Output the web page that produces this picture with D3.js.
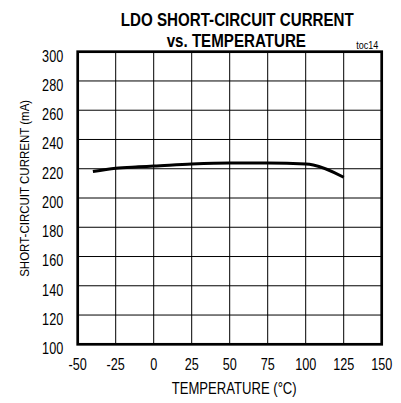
<!DOCTYPE html>
<html>
<head>
<meta charset="utf-8">
<script src="https://cdn.jsdelivr.net/npm/d3@7"></script>
<style>
  html, body { margin: 0; padding: 0; background: #fff; }
  svg text { font-family: "Liberation Sans", Arial, sans-serif; fill: #000; }
</style>
</head>
<body>
<div id="chart"></div>
<script>
// curve: temperature (°C) vs short-circuit current (mA)
const temps    = [-40, -25, -10, 0, 25, 50, 75, 100, 105, 125];
const currents = [218.1, 220.4, 221.3, 221.8, 223.2, 223.9, 223.9, 223.2, 222.6, 214.2];

const xTicks = [-50, -25, 0, 25, 50, 75, 100, 125, 150];
const yTicks = [100, 120, 140, 160, 180, 200, 220, 240, 260, 280, 300];

const W = 401, H = 403;
const margin = { top: 51.7, right: 19.3, bottom: 58.7, left: 77.7 };
const width  = W - margin.left - margin.right;
const height = H - margin.top - margin.bottom;

// the original uses an Arial Narrow look; squeeze Liberation Sans to match
const narrow = (sel, k = 0.82) => sel.each(function () {
  const len = this.getComputedTextLength();
  d3.select(this).attr("textLength", len * k).attr("lengthAdjust", "spacingAndGlyphs");
});

const svg = d3.select("#chart").append("svg")
  .attr("width", W)
  .attr("height", H);

const g = svg.append("g").attr("transform", `translate(${margin.left},${margin.top})`);

const x = d3.scaleLinear().domain([-50, 150]).range([0, width]);
const y = d3.scaleLinear().domain([100, 300]).range([height, 0]);

// grid
g.append("g").selectAll("line")
  .data(xTicks.slice(1, -1)).enter().append("line")
  .attr("x1", d => x(d)).attr("x2", d => x(d))
  .attr("y1", 0).attr("y2", height)
  .attr("stroke", "#000").attr("stroke-width", 1);

g.append("g").selectAll("line")
  .data(yTicks.slice(1, -1)).enter().append("line")
  .attr("x1", 0).attr("x2", width)
  .attr("y1", d => y(d)).attr("y2", d => y(d))
  .attr("stroke", "#000").attr("stroke-width", 1);

// tick labels
g.append("g").selectAll("text")
  .data(yTicks).enter().append("text")
  .attr("x", -14.5)
  .attr("y", d => y(d) + 9.8)
  .attr("text-anchor", "end")
  .style("font-size", "16px")
  .text(d => d)
  .call(narrow, 0.79);

g.append("g").selectAll("text")
  .data(xTicks).enter().append("text")
  .attr("x", d => x(d))
  .attr("y", height + 25.7)
  .attr("text-anchor", "middle")
  .style("font-size", "16px")
  .text(d => d)
  .call(narrow, 0.79);

// curve
const line = d3.line()
  .x((d, i) => x(temps[i]))
  .y(d => y(d))
  .curve(d3.curveMonotoneX);

g.append("path")
  .datum(currents)
  .attr("fill", "none")
  .attr("stroke", "#000")
  .attr("stroke-width", 3)
  .attr("stroke-linejoin", "round")
  .attr("d", line);

// frame
g.append("rect")
  .attr("x", 0).attr("y", 0)
  .attr("width", width).attr("height", height)
  .attr("fill", "none")
  .attr("stroke", "#000")
  .attr("stroke-width", 2.7);

// titles
svg.append("text")
  .attr("x", 237.3).attr("y", 25.7)
  .attr("text-anchor", "middle")
  .style("font-size", "18px").style("font-weight", "bold")
  .text("LDO SHORT-CIRCUIT CURRENT")
  .attr("textLength", 233).attr("lengthAdjust", "spacingAndGlyphs");

svg.append("text")
  .attr("x", 236.3).attr("y", 46.7)
  .attr("text-anchor", "middle")
  .style("font-size", "18px").style("font-weight", "bold")
  .text("vs. TEMPERATURE")
  .attr("textLength", 139.3).attr("lengthAdjust", "spacingAndGlyphs");

svg.append("text")
  .attr("x", 378.3).attr("y", 49.3)
  .attr("text-anchor", "end")
  .style("font-size", "11px")
  .text("toc14")
  .call(narrow, 0.82);

svg.append("text")
  .attr("x", 234.2).attr("y", 394)
  .attr("text-anchor", "middle")
  .style("font-size", "16.5px")
  .text("TEMPERATURE (°C)")
  .attr("textLength", 125).attr("lengthAdjust", "spacingAndGlyphs");

svg.append("text")
  .attr("transform", "translate(29,188.3) rotate(-90)")
  .attr("text-anchor", "middle")
  .style("font-size", "13.5px")
  .text("SHORT-CIRCUIT CURRENT (mA)")
  .attr("textLength", 177).attr("lengthAdjust", "spacingAndGlyphs");
</script>
</body>
</html>
